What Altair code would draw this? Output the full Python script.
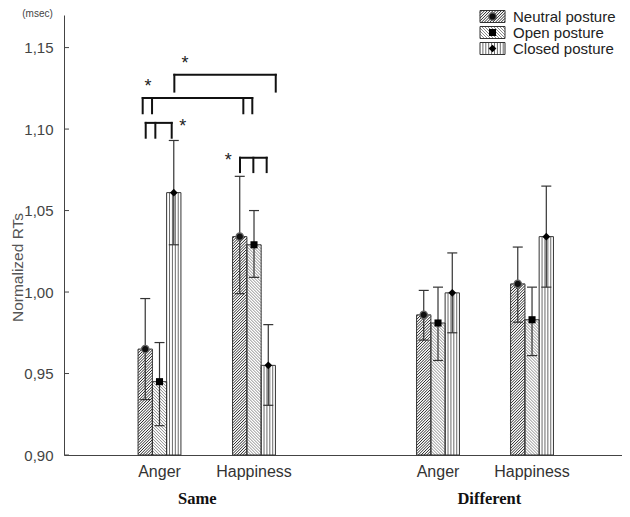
import altair as alt
import numpy as np
import pandas as pd

# ---------------- data ----------------
contexts = ["Same", "Same", "Different", "Different"]
emotions = ["Anger", "Happiness", "Anger", "Happiness"]
group_pos = [0.0, 1.0, 2.947, 3.942]
postures = ["Neutral posture", "Open posture", "Closed posture"]
posture_offset = [-0.151, 0.0, 0.151]

means_neutral = [0.965, 1.034, 0.986, 1.005]
means_open = [0.945, 1.029, 0.981, 0.983]
means_closed = [1.061, 0.955, 0.9995, 1.034]
low_neutral = [0.934, 0.999, 0.9705, 0.9815]
high_neutral = [0.996, 1.071, 1.001, 1.0276]
low_open = [0.918, 1.009, 0.958, 0.961]
high_open = [0.969, 1.050, 1.003, 1.003]
low_closed = [1.029, 0.9305, 0.975, 1.003]
high_closed = [1.093, 0.980, 1.024, 1.065]

y_ticks = [0.90, 0.95, 1.00, 1.05, 1.10, 1.15]
panel_labels = ["Same", "Different"]
panel_label_x = [0.40, 3.49]

bracket_y = [1.1333, 1.119, 1.1038, 1.0824]
bracket_leg_y = [1.123, 1.1097, 1.0947, 1.0736]
bracket_legs = [[0.157, 1.230], [-0.178, -0.079, 0.887, 0.982],
                [-0.146, -0.044, 0.129], [0.852, 0.993, 1.134]]
star_x = [0.270, -0.122, 0.245, 0.728]
star_y = [1.1426, 1.128, 1.104, 1.083]

# ---------------- layout ----------------
W, H = 558, 440
XMIN, XMAX = -1.0106, 4.894
YMIN, YMAX = 0.90, 1.17
PX = W / (XMAX - XMIN)
PY = H / (YMAX - YMIN)
BAR_W = 0.1513
CAP = 5.0 / PX
FONT = "Liberation Sans"

xs = alt.Scale(domain=[XMIN, XMAX], nice=False, zero=False)
ys = alt.Scale(domain=[YMIN, YMAX], nice=False, zero=False)

yaxis = alt.Axis(values=y_ticks, labelExpr="replace(format(datum.value, '.2f'), '.', ',')",
                 ticks=False, grid=False, domainColor="#444", domainWidth=1,
                 labelFont=FONT, labelFontSize=15, labelColor="#444", labelPadding=11,
                 title="Normalized RTs", titleFont=FONT, titleFontSize=15.5,
                 titleFontWeight="normal", titleColor="#555", titleX=-47, titleY=252,
                 titleAngle=270, titleAlign="center", titleBaseline="middle")
xaxis = alt.Axis(labels=False, ticks=False, grid=False, domainColor="#444",
                 domainWidth=1, title=" ")


def X(f):
    return alt.X(f, type="quantitative", scale=xs, axis=xaxis)


def Y(f):
    return alt.Y(f, type="quantitative", scale=ys, axis=yaxis)


def px2x(px):
    return XMIN + px / PX


def py2y(py):
    return YMAX - py / PY


def hatch(x0, x1, y0, y1, kind, step):
    w = (x1 - x0) * PX
    h = (y1 - y0) * PY
    segs = []
    if kind == "fwd":
        for c in np.arange(-w + step * 0.5, h, step):
            xa, xb = max(0.0, -c), min(w, h - c)
            if xb - xa > 0.3:
                segs.append((xa, xa + c, xb, xb + c))
    elif kind == "back":
        for c in np.arange(step * 0.5, w + h, step):
            xa, xb = max(0.0, c - h), min(w, c)
            if xb - xa > 0.3:
                segs.append((xa, c - xa, xb, c - xb))
    else:
        for xx in np.arange(step, w - 1.0, step):
            segs.append((xx, 0.0, xx, h))
    return [dict(x=x0 + a / PX, y=y0 + b / PY, x2=x0 + c / PX, y2=y0 + d / PY)
            for a, b, c, d in segs]


styles = {
    "Neutral posture": ("fwd", 2.8, "#262626"),
    "Open posture": ("back", 3.0, "#8c8c8c"),
    "Closed posture": ("vert", 2.9, "#6a6a6a"),
}

means = [means_neutral, means_open, means_closed]
lows = [low_neutral, low_open, low_closed]
highs = [high_neutral, high_open, high_closed]

rows = []
for gi in range(len(group_pos)):
    for pi, p in enumerate(postures):
        xc = group_pos[gi] + posture_offset[pi]
        rows.append(dict(context=contexts[gi], emotion=emotions[gi], posture=p,
                         xc=xc, x0=xc - BAR_W / 2, x1=xc + BAR_W / 2, base=YMIN,
                         mean=means[pi][gi], low=lows[pi][gi], high=highs[pi][gi],
                         cl=xc - CAP, cr=xc + CAP))
bars = pd.DataFrame(rows)

hrows = []
for _, r in bars.iterrows():
    kind, step, col = styles[r["posture"]]
    for s in hatch(r["x0"], r["x1"], YMIN, r["mean"], kind, step):
        s["c"] = col
        hrows.append(s)

# legend (positions in plot pixels converted through the scales)
leg_rows_py = [1.5, 17.5, 33.5]
leg = []
for i, p in enumerate(postures):
    cy = leg_rows_py[i]
    leg.append(dict(posture=p, x0=px2x(416), x1=px2x(441), y0=py2y(cy + 6), y1=py2y(cy - 6),
                    xc=px2x(428.5), yc=py2y(cy), xt=px2x(449)))
leg = pd.DataFrame(leg)
for _, r in leg.iterrows():
    kind, step, col = styles[r["posture"]]
    for s in hatch(r["x0"], r["x1"], r["y0"], r["y1"], kind, step):
        s["c"] = col
        hrows.append(s)
hatch_df = pd.DataFrame(hrows)

allrects = pd.concat([bars[["x0", "x1", "base", "mean"]],
                      leg.rename(columns={"y0": "base", "y1": "mean"})[["x0", "x1", "base", "mean"]]])

# brackets
brows = []
for i in range(len(bracket_y)):
    legs = bracket_legs[i]
    brows.append(dict(x=min(legs), x2=max(legs), y=bracket_y[i], y2=bracket_y[i]))
    for lx in legs:
        brows.append(dict(x=lx, x2=lx, y=bracket_leg_y[i], y2=bracket_y[i]))
br = pd.DataFrame(brows)
stars = pd.DataFrame(dict(x=star_x, y=star_y))
groups = pd.DataFrame(dict(pos=group_pos, emotion=emotions))
panels = pd.DataFrame(dict(x=panel_label_x, label=panel_labels))
ticks = pd.DataFrame(dict(t=y_ticks))

# ---------------- layers ----------------
base_fill = alt.Chart(allrects).mark_rect(fill="white", strokeWidth=0).encode(
    x=X("x0"), x2="x1:Q", y=Y("base"), y2="mean:Q")

hatch_layer = alt.Chart(hatch_df).mark_rule(strokeWidth=1).encode(
    x=X("x"), x2="x2:Q", y=Y("y"), y2="y2:Q", color=alt.Color("c:N", scale=None))

outline = alt.Chart(allrects).mark_rect(fill="white", fillOpacity=0, stroke="#333",
                                        strokeWidth=1).encode(
    x=X("x0"), x2="x1:Q", y=Y("base"), y2="mean:Q")

err = alt.Chart(bars).mark_rule(color="#333", strokeWidth=1.2).encode(
    x=X("xc"), y=Y("low"), y2="high:Q")
cap_hi = alt.Chart(bars).mark_rule(color="#333", strokeWidth=1.2).encode(
    x=X("cl"), x2="cr:Q", y=Y("high"))
cap_lo = alt.Chart(bars).mark_rule(color="#333", strokeWidth=1.2).encode(
    x=X("cl"), x2="cr:Q", y=Y("low"))

marker_df = pd.concat([bars[["posture", "xc", "mean"]],
                       leg.rename(columns={"yc": "mean"})[["posture", "xc", "mean"]]])
m_neu = alt.Chart(marker_df[marker_df.posture == postures[0]]).mark_point(
    shape="circle", filled=True, size=55, color="#111", stroke="#666",
    strokeWidth=1.2, opacity=1).encode(x=X("xc"), y=Y("mean"))
m_open = alt.Chart(marker_df[marker_df.posture == postures[1]]).mark_point(
    shape="square", filled=True, size=50, color="#000", opacity=1).encode(
    x=X("xc"), y=Y("mean"))
m_closed = alt.Chart(marker_df[marker_df.posture == postures[2]]).mark_point(
    shape="diamond", filled=True, size=60, color="#000", opacity=1).encode(
    x=X("xc"), y=Y("mean"))

brackets = alt.Chart(br).mark_rule(color="#111", strokeWidth=2, strokeCap="square").encode(
    x=X("x"), x2="x2:Q", y=Y("y"), y2="y2:Q")
star_layer = alt.Chart(stars).mark_text(text="*", font=FONT, fontSize=18, color="#222",
                                        baseline="alphabetic", dy=9).encode(
    x=X("x"), y=Y("y"))

group_lbl = alt.Chart(groups).mark_text(font=FONT, fontSize=16, color="#333",
                                        baseline="middle").encode(
    x=X("pos"), y=alt.value(H + 17), text="emotion:N")
panel_lbl = alt.Chart(panels).mark_text(font="Liberation Serif", fontWeight="bold",
                                        fontSize=16.5, color="#111", baseline="middle").encode(
    x=X("x"), y=alt.value(H + 44), text="label:N")

tick_layer = alt.Chart(ticks).mark_rule(color="#444", strokeWidth=1).encode(
    y=Y("t"), x=alt.value(0), x2=alt.value(5))

leg_text = alt.Chart(leg).mark_text(font=FONT, fontSize=15, color="#222", align="left",
                                    baseline="middle").encode(
    x=X("xt"), y=Y("yc"), text="posture:N")

msec = alt.Chart(pd.DataFrame(dict(t=["(msec)"]))).mark_text(
    font=FONT, fontSize=10, color="#444", baseline="middle").encode(
    x=alt.value(-26.5), y=alt.value(-1), text="t:N")

chart = alt.layer(
    base_fill, hatch_layer, outline, err, cap_hi, cap_lo, m_neu, m_open, m_closed,
    brackets, star_layer, group_lbl, panel_lbl, tick_layer, leg_text, msec
).properties(
    width=W, height=H,
    autosize=alt.AutoSizeParams(type="none"),
    padding={"left": 56, "top": 7, "right": 0, "bottom": 54},
).configure_view(stroke="transparent").configure_axis(grid=False)

chart.save("out.html", embed_options={"renderer": "svg", "actions": False})
